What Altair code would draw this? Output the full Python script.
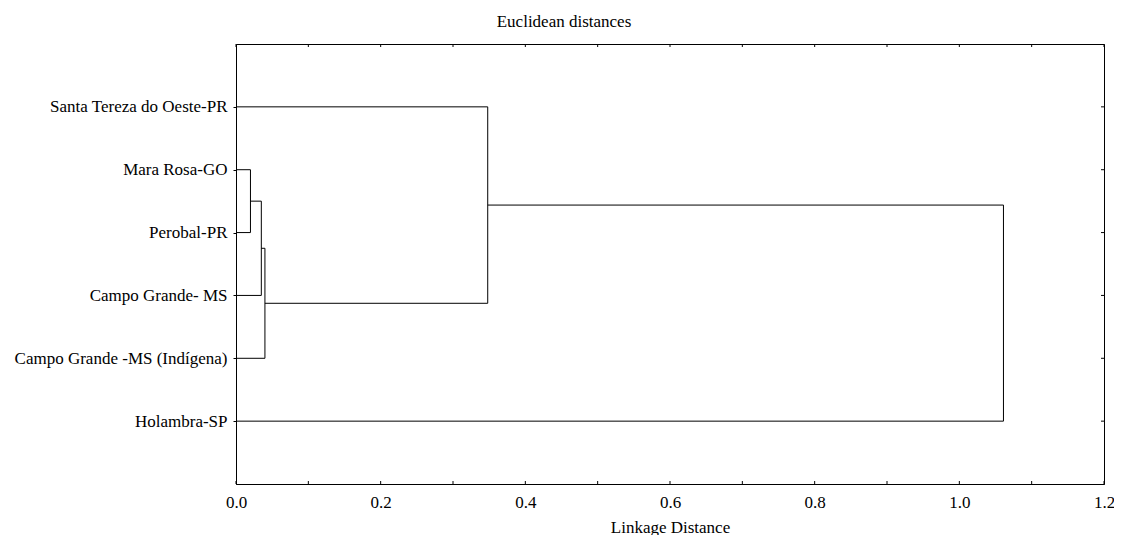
import json
import altair as alt
import pandas as pd

# Leaves, top to bottom
names = [
    "Santa Tereza do Oeste-PR",
    "Mara Rosa-GO",
    "Perobal-PR",
    "Campo Grande- MS",
    "Campo Grande -MS (Indígena)",
    "Holambra-SP",
]
# Merges (cluster a, cluster b, linkage distance); new cluster ids start at len(names)
merge_a = [1, 6, 7, 0, 9]
merge_b = [2, 3, 4, 8, 5]
merge_h = [0.020, 0.035, 0.040, 0.348, 1.061]

x_ticks = [0.0, 0.1, 0.2, 0.3, 0.4, 0.5, 0.6, 0.7, 0.8, 0.9, 1.0, 1.1, 1.2]
x_labels = [0.0, 0.2, 0.4, 0.6, 0.8, 1.0, 1.2]
row_pos = [1, 2, 3, 4, 5, 6]

# Build dendrogram segments from the linkage table
pos = {i: (float(i + 1), 0.0) for i in range(len(names))}
segs = []
for k, (a, b, h) in enumerate(zip(merge_a, merge_b, merge_h)):
    ya, ha = pos[a]
    yb, hb = pos[b]
    segs.append({"x": ha, "x2": h, "y": ya, "y2": ya})
    segs.append({"x": hb, "x2": h, "y": yb, "y2": yb})
    segs.append({"x": h, "x2": h, "y": ya, "y2": yb})
    pos[len(names) + k] = ((ya + yb) / 2.0, h)
seg_df = pd.DataFrame(segs)

W, H = 868, 440
FONT = "Liberation Serif"

xscale = alt.Scale(domain=[0, 1.2], nice=False, zero=False)
yscale = alt.Scale(domain=[0, 7], reverse=True, nice=False, zero=False)

label_expr = "[''," + ",".join(json.dumps(n) for n in names) + "][datum.value]"

xaxis = alt.Axis(
    values=x_labels, format=".1f", ticks=False, grid=False,
    domain=True, domainColor="black", labelFlush=False, labelOverlap=False,
    labelPadding=10, labelFont=FONT, labelFontSize=17, labelColor="black",
    title="Linkage Distance", titleFont=FONT, titleFontSize=17,
    titleFontWeight="normal", titleColor="black", titlePadding=9)
yaxis = alt.Axis(
    values=row_pos, labelExpr=label_expr, ticks=True, tickSize=3,
    tickColor="black", grid=False, domain=True, domainColor="black",
    labelPadding=6, labelFont=FONT, labelFontSize=17, labelColor="black",
    labelLimit=0, title=None)

segments = alt.Chart(seg_df).mark_rule(color="black", strokeWidth=1).encode(
    x=alt.X("x:Q", scale=xscale, axis=xaxis),
    x2="x2:Q",
    y=alt.Y("y:Q", scale=yscale, axis=yaxis),
    y2="y2:Q",
)

xt_df = pd.DataFrame({"x": x_ticks})
rt_df = pd.DataFrame({"y": row_pos})

bottom_ticks = alt.Chart(xt_df).mark_rule(color="black").encode(
    x=alt.X("x:Q", scale=xscale, axis=xaxis),
    y=alt.value(H), y2=alt.value(H - 3))
top_ticks = alt.Chart(xt_df).mark_rule(color="black").encode(
    x=alt.X("x:Q", scale=xscale, axis=xaxis),
    y=alt.value(0), y2=alt.value(3))
right_ticks = alt.Chart(rt_df).mark_rule(color="black").encode(
    y=alt.Y("y:Q", scale=yscale, axis=yaxis),
    x=alt.value(W), x2=alt.value(W - 3))

chart = alt.layer(segments, bottom_ticks, top_ticks, right_ticks).properties(
    width=W, height=H,
    title=alt.TitleParams("Euclidean distances", font=FONT, fontSize=17,
                          fontWeight="normal", color="black", anchor="middle",
                          dx=-106, offset=0, baseline="alphabetic"),
    autosize=alt.AutoSizeParams(type="none"),
    padding={"left": 228, "top": 36, "right": 10, "bottom": 51},
    background="white",
).configure_view(stroke="black", strokeWidth=1)

chart.save("out.html", embed_options={"renderer": "svg", "actions": False})
